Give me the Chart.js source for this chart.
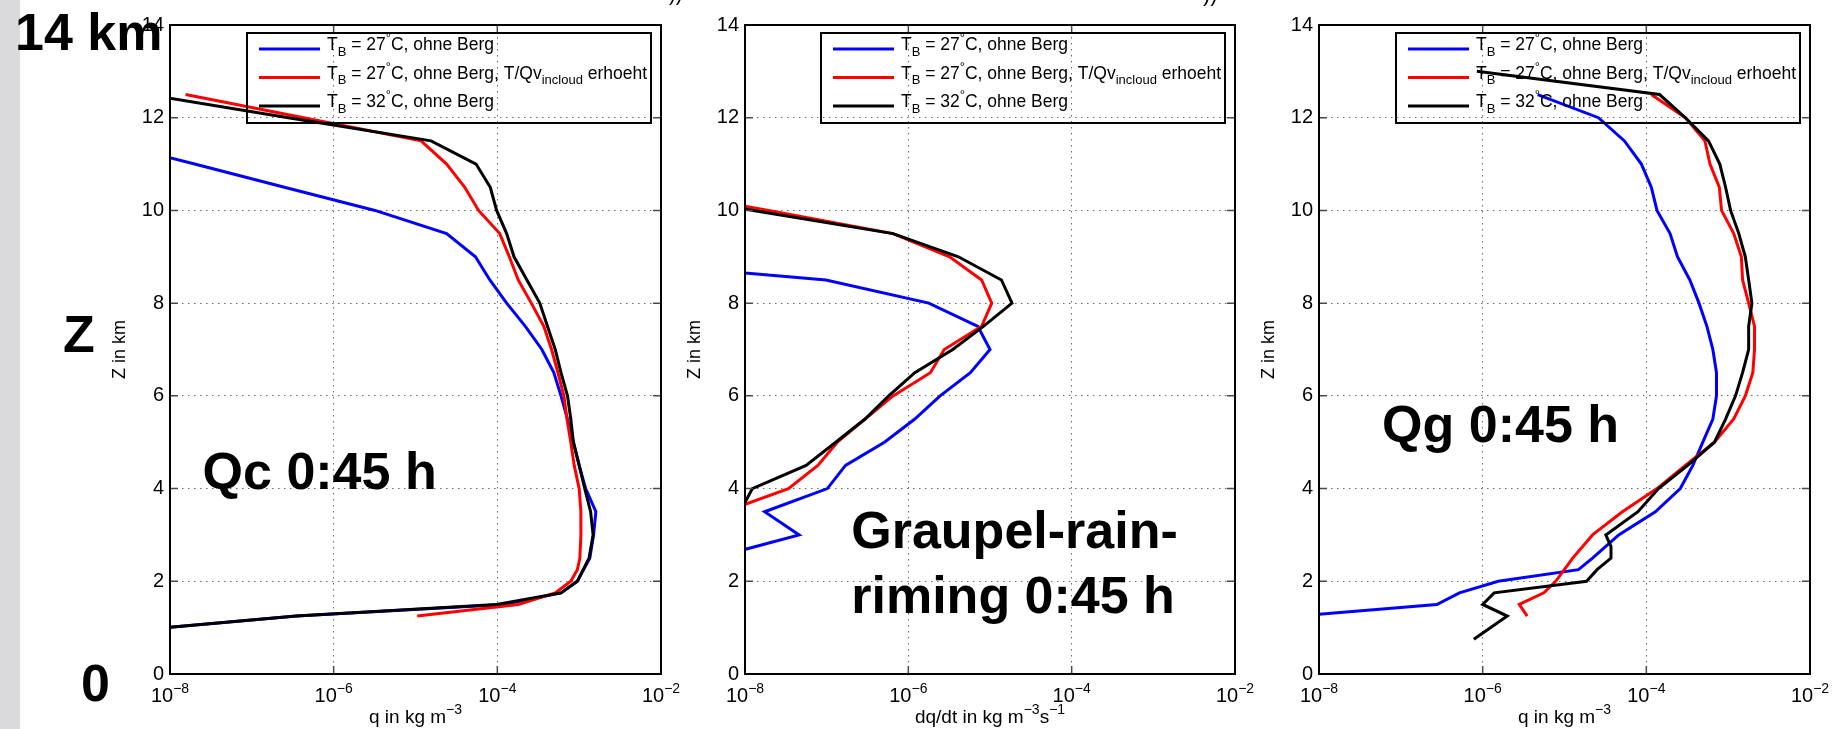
<!DOCTYPE html>
<html>
<head>
<meta charset="utf-8">
<script src="https://cdn.jsdelivr.net/npm/chart.js@4.4.0/dist/chart.umd.min.js"></script>
<style>
  html, body { margin: 0; padding: 0; background: #fff; }
  body { width: 1839px; height: 729px; position: relative; overflow: hidden; }
  #strip { position: absolute; left: 0; top: 0; width: 20px; height: 729px; background: #dadadc; }
  canvas { position: absolute; top: 0; }
</style>
</head>
<body>
<div id="strip"></div>
<canvas id="qc" width="700" height="729" style="left:0px"></canvas>
<canvas id="graupel" width="600" height="729" style="left:675px"></canvas>
<canvas id="qg" width="590" height="729" style="left:1249px"></canvas>
<script>
// legend / axis texts (_ = subscript, ^ = superscript)
const seriesLabels = ['T_B = 27^°C, ohne Berg', 'T_B = 27^°C, ohne Berg, T/Qv_{incloud} erhoeht', 'T_B = 32^°C, ohne Berg'];
const seriesColors = ['#0000ff', '#ff0000', '#000000'];
const xTickValues = [1e-8, 1e-6, 1e-4, 1e-2];
const xTickLabels = ['10^{−8}', '10^{−6}', '10^{−4}', '10^{−2}'];

// Qc 0:45 h  (height km / q kg m^-3)
const zQcBlue = [1.0, 1.25, 1.5, 1.75, 2.0, 2.5, 3.0, 3.5, 4.0, 4.5, 5.0, 5.5, 6.0, 6.5, 7.0, 7.5, 8.0, 8.5, 9.0, 9.5, 10.0, 10.5, 11.0, 11.5];
const qcBlue = [8.9e-9, 3.5e-7, 1.2e-4, 6.0e-4, 9.5e-4, 1.35e-3, 1.5e-3, 1.6e-3, 1.2e-3, 1.0e-3, 8.5e-4, 7.2e-4, 6.0e-4, 4.9e-4, 3.5e-4, 2.2e-4, 1.3e-4, 8.1e-5, 5.4e-5, 2.4e-5, 3.2e-6, 2.5e-7, 2.0e-8, 1.6e-9];
const zQcRed = [1.25, 1.5, 1.75, 2.0, 2.25, 2.5, 3.0, 3.5, 4.0, 4.5, 5.0, 5.5, 6.0, 6.5, 7.0, 7.5, 8.0, 8.5, 9.0, 9.5, 10.0, 10.5, 11.0, 11.5, 12.0, 12.5];
const qcRed = [1.05e-5, 1.8e-4, 5.1e-4, 7.9e-4, 9.5e-4, 1.02e-3, 1.05e-3, 1.05e-3, 1.0e-3, 8.7e-4, 7.9e-4, 7.1e-4, 6.5e-4, 5.5e-4, 4.6e-4, 3.7e-4, 2.6e-4, 1.8e-4, 1.4e-4, 1.07e-4, 5.9e-5, 4.0e-5, 2.4e-5, 1.17e-5, 4.3e-7, 1.55e-8];
const zQcBlack = [1.0, 1.25, 1.5, 1.75, 2.0, 2.5, 3.0, 3.5, 4.0, 4.5, 5.0, 5.5, 6.0, 6.5, 7.0, 7.5, 8.0, 8.5, 9.0, 9.5, 10.0, 10.5, 11.0, 11.5, 12.0, 12.5];
const qcBlack = [9.0e-9, 3.5e-7, 9.8e-5, 6.0e-4, 9.5e-4, 1.32e-3, 1.48e-3, 1.38e-3, 1.17e-3, 1.0e-3, 8.5e-4, 7.9e-4, 7.2e-4, 6.0e-4, 5.1e-4, 4.1e-4, 3.3e-4, 2.3e-4, 1.6e-4, 1.3e-4, 9.8e-5, 8.2e-5, 5.5e-5, 1.55e-5, 2.8e-7, 5.2e-9];

// Graupel-rain-riming 0:45 h  (dq/dt kg m^-3 s^-1)
const zGrBlue = [2.5, 3.0, 3.5, 4.0, 4.5, 5.0, 5.5, 6.0, 6.5, 7.0, 7.5, 8.0, 8.5, 9.0];
const grBlue = [4.0e-9, 4.6e-8, 1.74e-8, 1.02e-7, 1.7e-7, 5.1e-7, 1.2e-6, 2.45e-6, 5.75e-6, 1.0e-5, 7.1e-6, 1.78e-6, 9.8e-8, 5e-11];
const zGrRed = [3.5, 4.0, 4.5, 5.0, 5.5, 6.0, 6.5, 7.0, 7.5, 8.0, 8.5, 9.0, 9.5, 10.0, 10.5];
const grRed = [5.6e-9, 3.4e-8, 7.8e-8, 1.35e-7, 2.95e-7, 6.5e-7, 1.86e-6, 2.75e-6, 7.9e-6, 1.05e-5, 7.9e-6, 3.2e-6, 6.5e-7, 1.95e-8, 5e-10];
const zGrBlack = [3.5, 4.0, 4.5, 5.0, 5.5, 6.0, 6.5, 7.0, 7.5, 8.0, 8.5, 9.0, 9.5, 10.0, 10.5];
const grBlack = [8.7e-9, 1.23e-8, 5.6e-8, 1.29e-7, 2.95e-7, 5.75e-7, 1.2e-6, 3.5e-6, 8.3e-6, 1.86e-5, 1.38e-5, 4.1e-6, 6.5e-7, 1.26e-8, 2.5e-10];

// Qg 0:45 h
const zQgBlue = [1.25, 1.5, 1.75, 2.0, 2.25, 2.5, 3.0, 3.5, 4.0, 4.5, 5.0, 5.5, 6.0, 6.5, 7.0, 7.5, 8.0, 8.5, 9.0, 9.5, 10.0, 10.5, 11.0, 11.5, 12.0, 12.5];
const qgBlue = [5.4e-9, 2.75e-7, 5.2e-7, 1.55e-6, 1.48e-5, 2.2e-5, 4.6e-5, 1.29e-4, 2.6e-4, 3.7e-4, 4.9e-4, 6.5e-4, 7.2e-4, 7.2e-4, 6.5e-4, 5.5e-4, 4.4e-4, 3.4e-4, 2.4e-4, 1.95e-4, 1.35e-4, 1.15e-4, 8.7e-5, 5.4e-5, 2.6e-5, 4.7e-6];
const zQgRed = [1.25, 1.5, 1.75, 2.0, 2.5, 3.0, 3.5, 4.0, 4.5, 5.0, 5.5, 6.0, 6.5, 7.0, 7.5, 8.0, 8.5, 9.0, 9.5, 10.0, 10.5, 11.0, 11.5, 12.0, 12.5];
const qgRed = [3.5e-6, 2.8e-6, 5.6e-6, 7.8e-6, 1.26e-5, 2.2e-5, 5.1e-5, 1.35e-4, 3.0e-4, 6.8e-4, 1.17e-3, 1.62e-3, 2.0e-3, 2.1e-3, 2.1e-3, 1.78e-3, 1.5e-3, 1.45e-3, 1.17e-3, 8.3e-4, 7.8e-4, 6.0e-4, 5.2e-4, 3.0e-4, 1.15e-4];
const zQgBlack = [0.75, 1.25, 1.5, 1.75, 2.0, 2.25, 2.5, 2.75, 3.0, 3.5, 4.0, 4.5, 5.0, 5.5, 6.0, 6.5, 7.0, 7.5, 8.0, 8.5, 9.0, 9.5, 10.0, 10.5, 11.0, 11.5, 12.0, 12.5, 13.0];
const qgBlack = [7.8e-7, 2.0e-6, 1.0e-6, 1.38e-6, 1.86e-5, 2.5e-5, 3.7e-5, 3.7e-5, 3.2e-5, 7.9e-5, 1.41e-4, 3.2e-4, 6.8e-4, 9.3e-4, 1.23e-3, 1.5e-3, 1.78e-3, 1.78e-3, 1.95e-3, 1.78e-3, 1.62e-3, 1.35e-3, 1.07e-3, 9.3e-4, 7.9e-4, 5.75e-4, 3.0e-4, 1.45e-4, 8.5e-7];

const FONT = '"Liberation Sans", Arial, Helvetica, sans-serif';

function parseRich(str) {
  const segs = [];
  let buf = '';
  let i = 0;
  while (i < str.length) {
    const c = str[i];
    if (c === '_' || c === '^') {
      if (buf) { segs.push({ t: buf, m: 0 }); buf = ''; }
      let t;
      if (str[i + 1] === '{') {
        const j = str.indexOf('}', i + 2);
        t = str.slice(i + 2, j);
        i = j + 1;
      } else {
        t = str[i + 1];
        i += 2;
      }
      segs.push({ t: t, m: c === '_' ? 1 : -1 });
    } else {
      buf += c;
      i++;
    }
  }
  if (buf) segs.push({ t: buf, m: 0 });
  return segs;
}

function drawRich(ctx, str, x, y, size, align) {
  const segs = parseRich(str);
  const fontN = size + 'px ' + FONT;
  const fontS = Math.round(size * 0.72) + 'px ' + FONT;
  let total = 0;
  segs.forEach(s => {
    ctx.font = s.m ? fontS : fontN;
    s.w = ctx.measureText(s.t).width;
    total += s.w;
  });
  let cx = align === 'center' ? x - total / 2 : x;
  ctx.textAlign = 'left';
  ctx.textBaseline = 'alphabetic';
  segs.forEach(s => {
    ctx.font = s.m ? fontS : fontN;
    const dy = s.m === 1 ? size * 0.32 : (s.m === -1 ? -size * 0.45 : 0);
    ctx.fillText(s.t, cx, y + dy);
    cx += s.w;
  });
}

const framePlugin = {
  id: 'frame',
  afterDatasetsDraw(chart, args, opts) {
    const { ctx, chartArea: a } = chart;
    const x = chart.scales.x;
    const y = chart.scales.y;
    ctx.save();

    // inward tick marks on all four sides
    ctx.strokeStyle = '#4a4a4a';
    ctx.lineWidth = 1.5;
    ctx.beginPath();
    x.ticks.forEach(t => {
      const px = x.getPixelForValue(t.value);
      ctx.moveTo(px, a.bottom); ctx.lineTo(px, a.bottom - 8);
      ctx.moveTo(px, a.top); ctx.lineTo(px, a.top + 8);
    });
    y.ticks.forEach(t => {
      const py = y.getPixelForValue(t.value);
      ctx.moveTo(a.left, py); ctx.lineTo(a.left + 8, py);
      ctx.moveTo(a.right, py); ctx.lineTo(a.right - 8, py);
    });
    ctx.stroke();

    // axes box
    ctx.strokeStyle = '#000';
    ctx.lineWidth = 2;
    ctx.strokeRect(a.left, a.top, a.right - a.left, a.bottom - a.top);

    // x tick labels and x title
    ctx.fillStyle = '#000';
    x.ticks.forEach((t, i) => {
      drawRich(ctx, xTickLabels[i], x.getPixelForValue(t.value), 702, 20, 'center');
    });
    drawRich(ctx, opts.xTitle, (a.left + a.right) / 2, 723, 19, 'center');

    // legend (transparent box)
    const lw = 404, lh = 90;
    const lx = a.right - 10 - lw, ly = a.top + 8;
    ctx.strokeStyle = '#000';
    ctx.lineWidth = 2;
    ctx.strokeRect(lx, ly, lw, lh);
    chart.data.datasets.forEach((ds, i) => {
      const ry = ly + 16 + i * 28.5;
      ctx.strokeStyle = ds.borderColor;
      ctx.lineWidth = 3;
      ctx.beginPath();
      ctx.moveTo(lx + 12, ry);
      ctx.lineTo(lx + 73, ry);
      ctx.stroke();
      ctx.fillStyle = '#000';
      drawRich(ctx, ds.label, lx + 80, ry + 1, 17.5, 'left');
    });

    // big panel labels anchored in data coordinates
    ctx.fillStyle = '#000';
    ctx.font = 'bold 52px ' + FONT;
    ctx.textAlign = 'left';
    ctx.textBaseline = 'alphabetic';
    (opts.notes || []).forEach(n => {
      const px = x.getPixelForValue(n.x);
      const py = y.getPixelForValue(n.z);
      n.lines.forEach((line, k) => ctx.fillText(line, px, py + k * 65));
    });
    // labels outside the axes
    (opts.outer || []).forEach(n => {
      ctx.font = (n.size ? n.size + 'px ' : 'bold 52px ') + FONT;
      ctx.fillText(n.text, n.px, n.py);
    });
    ctx.restore();
  }
};

function makeDatasets(zs, qs) {
  return zs.map((z, k) => ({
    label: seriesLabels[k],
    data: z.map((h, i) => ({ x: qs[k][i], y: h })),
    borderColor: seriesColors[k],
    backgroundColor: seriesColors[k],
    borderWidth: 3,
    pointRadius: 0,
    tension: 0,
    fill: false,
    order: 2 - k   // black drawn last, on top
  }));
}

function makeChart(id, datasets, padRight, padLeft, frameOpts) {
  return new Chart(document.getElementById(id), {
    type: 'line',
    data: { datasets: datasets },
    options: {
      responsive: false,
      animation: false,
      events: [],
      layout: { padding: { left: padLeft, right: padRight, top: 25, bottom: 0 } },
      plugins: {
        legend: { display: false },
        tooltip: { enabled: false },
        frame: frameOpts
      },
      scales: {
        x: {
          type: 'logarithmic',
          min: 1e-8,
          max: 1e-2,
          afterBuildTicks: s => { s.ticks = xTickValues.map(v => ({ value: v })); },
          afterFit: s => { s.height = 55; },
          ticks: { display: false },
          grid: { color: '#6a6a6a', lineWidth: 1, drawTicks: false },
          border: { display: false, dash: [1.5, 4.5] }
        },
        y: {
          type: 'linear',
          min: 0,
          max: 14,
          afterFit: s => { s.width = 70; },
          ticks: {
            stepSize: 2,
            padding: 6,
            color: '#000',
            font: { family: FONT, size: 20 }
          },
          grid: { color: '#6a6a6a', lineWidth: 1, drawTicks: false },
          border: { display: false, dash: [1.5, 4.5] },
          title: {
            display: true,
            text: 'Z in km',
            color: '#000',
            font: { family: FONT, size: 18 },
            padding: { top: 9, bottom: 0 }
          }
        }
      }
    },
    plugins: [framePlugin]
  });
}

makeChart('qc', makeDatasets([zQcBlue, zQcRed, zQcBlack], [qcBlue, qcRed, qcBlack]), 39, 100, {
  xTitle: 'q in kg m^{−3}',
  notes: [{ lines: ['Qc 0:45 h'], x: 2.5e-8, z: 4.0 }],
  outer: [
    { text: '14 km', px: 15, py: 50 },
    { text: 'Z', px: 63, py: 352 },
    { text: '0', px: 81, py: 701 },
    { text: '))', px: 669, py: 1, size: 20 }
  ]
});

makeChart('graupel', makeDatasets([zGrBlue, zGrRed, zGrBlack], [grBlue, grRed, grBlack]), 40, 0, {
  xTitle: 'dq/dt in kg m^{−3}s^{−1}',
  notes: [{ lines: ['Graupel-rain-', 'riming 0:45 h'], x: 2.0e-7, z: 2.72 }],
  outer: [{ text: '))', px: 528, py: 1, size: 22 }]
});

makeChart('qg', makeDatasets([zQgBlue, zQgRed, zQgBlack], [qgBlue, qgRed, qgBlack]), 29, 0, {
  xTitle: 'q in kg m^{−3}',
  notes: [{ lines: ['Qg 0:45 h'], x: 5.9e-8, z: 5.0 }]
});
</script>
</body>
</html>
